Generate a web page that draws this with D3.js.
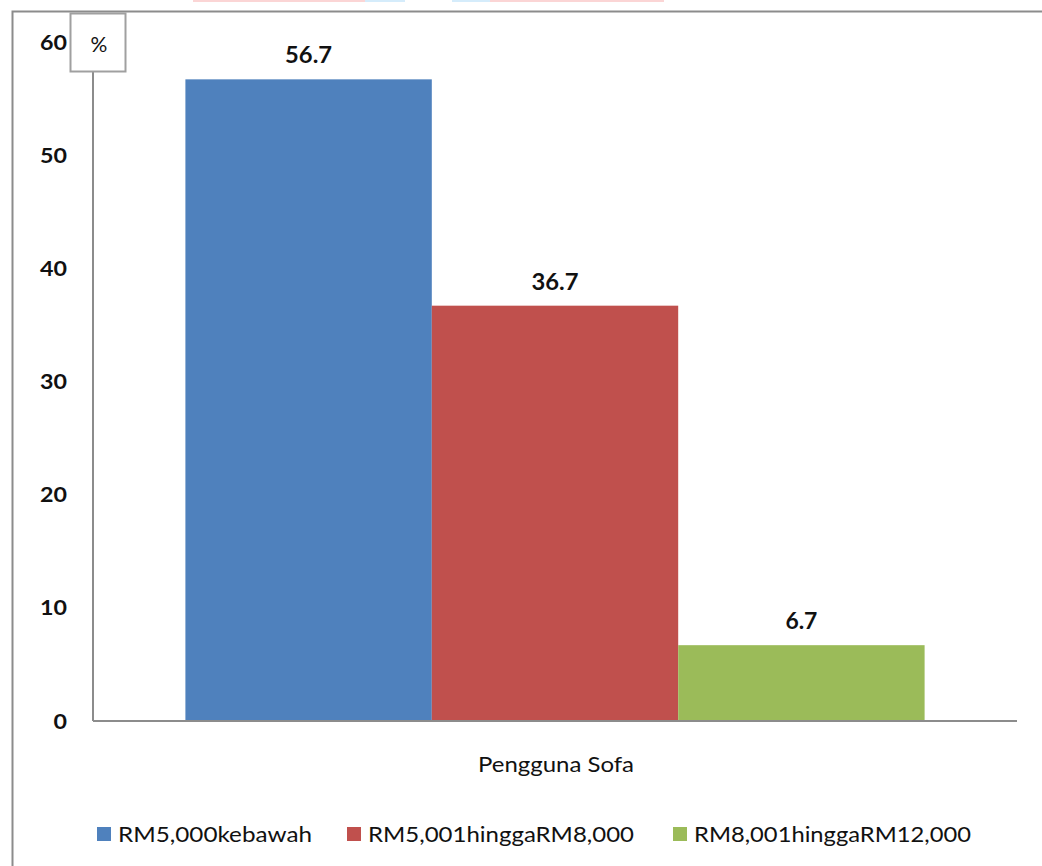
<!DOCTYPE html>
<html><head><meta charset="utf-8">
<script src="https://cdn.jsdelivr.net/npm/d3@7"></script>
<style>body{margin:0;background:#fff;}svg{display:block;}</style>
</head><body>
<svg id="c" width="1042" height="866"></svg>
<script>
const category = "Pengguna Sofa";
const seriesNames = ["RM5,000kebawah", "RM5,001hinggaRM8,000", "RM8,001hinggaRM12,000"];
const seriesValues = [56.7, 36.7, 6.7];
const seriesColors = ["#4f81bd", "#c0504d", "#9bbb59"];
const yTicks = [0, 10, 20, 30, 40, 50, 60];
const unitLabel = "%";

(function () {
const svg = d3.select("#c");
const font = "Lato, 'Open Sans', 'Liberation Sans', Arial, sans-serif";
const pL = 93, pR = 1017, pT = 42, pB = 721;

// faint strips at the very top edge
[[193, 365, "#fbd5d5"], [365, 405, "#d5ecfb"], [452, 490, "#d5ecfb"], [490, 664, "#fbd5d5"]].forEach(s => {
  svg.append("rect").attr("x", s[0]).attr("y", 0).attr("width", s[1] - s[0]).attr("height", 2).attr("fill", s[2]);
});

// outer frame
svg.append("rect").attr("x", 12.5).attr("y", 11.5).attr("width", 1100).attr("height", 1000)
  .attr("fill", "none").attr("stroke", "#8c8c8c").attr("stroke-width", 2);

const y = d3.scaleLinear().domain([0, 60]).range([pB, pT]);
const xOuter = d3.scaleBand().domain([category]).range([pL, pR]).paddingOuter(0.125).paddingInner(0);
const xInner = d3.scaleBand().domain(seriesNames).range([0, xOuter.bandwidth()]);

// y axis line
svg.append("line").attr("x1", pL).attr("x2", pL).attr("y1", 71).attr("y2", pB)
  .attr("stroke", "#8c8c8c").attr("stroke-width", 2);
// tick labels
svg.append("g").selectAll("text").data(yTicks).join("text")
  .attr("x", 67).attr("y", d => y(d) + 7.5).attr("text-anchor", "end")
  .attr("font-family", font).attr("font-weight", "bold").attr("font-size", 21).attr("fill", "#111")
  .attr("textLength", d => String(d).length * 13.5).attr("lengthAdjust", "spacingAndGlyphs")
  .text(d => d);

// bars
const g = svg.append("g").attr("transform", `translate(${xOuter(category)},0)`);
g.selectAll("rect").data(seriesNames).join("rect")
  .attr("x", d => xInner(d)).attr("width", xInner.bandwidth())
  .attr("y", (d, i) => y(seriesValues[i])).attr("height", (d, i) => pB - y(seriesValues[i]))
  .attr("fill", (d, i) => seriesColors[i]);
g.selectAll("text").data(seriesNames).join("text")
  .attr("x", d => xInner(d) + xInner.bandwidth() / 2)
  .attr("y", (d, i) => y(seriesValues[i]) - 16)
  .attr("text-anchor", "middle").attr("font-family", font).attr("font-weight", "bold")
  .attr("font-size", 22).attr("fill", "#111")
  .attr("textLength", (d, i) => seriesValues[i] >= 10 ? 47 : 32).attr("lengthAdjust", "spacingAndGlyphs")
  .text((d, i) => seriesValues[i].toFixed(1));

// x axis line
svg.append("line").attr("x1", pL).attr("x2", pR).attr("y1", pB).attr("y2", pB)
  .attr("stroke", "#8c8c8c").attr("stroke-width", 2);

// % box
svg.append("rect").attr("x", 70.5).attr("y", 13.5).attr("width", 55).attr("height", 58)
  .attr("fill", "#fff").attr("stroke", "#a0a0a0").attr("stroke-width", 2);
svg.append("text").attr("x", 99).attr("y", 52).attr("text-anchor", "middle")
  .attr("font-family", font).attr("font-size", 21).attr("fill", "#111").text(unitLabel);

// category label
svg.append("text").attr("x", 556).attr("y", 772)
  .attr("text-anchor", "middle").attr("font-family", font)
  .attr("font-size", 21).attr("fill", "#111")
  .attr("textLength", 156).attr("lengthAdjust", "spacingAndGlyphs")
  .text(category);

// legend
const legendX = [97, 347, 673];
const legendW = [194, 266, 277];
const lg = svg.append("g");
seriesNames.forEach((n, i) => {
  lg.append("rect").attr("x", legendX[i]).attr("y", 827).attr("width", 14).attr("height", 14).attr("fill", seriesColors[i]);
  lg.append("text").attr("x", legendX[i] + 21).attr("y", 842)
    .attr("font-family", font).attr("font-size", 22).attr("fill", "#111")
    .attr("textLength", legendW[i]).attr("lengthAdjust", "spacingAndGlyphs").text(n);
});
})();
</script>
</body></html>
